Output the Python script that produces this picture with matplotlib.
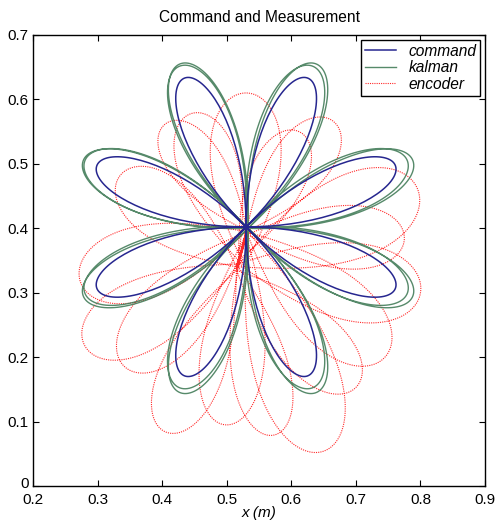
import numpy as np
import matplotlib
matplotlib.use("Agg")
import matplotlib.pyplot as plt
from matplotlib.transforms import ScaledTranslation

plt.rcParams['font.family'] = ['Liberation Sans', 'DejaVu Sans']

# ---------------- data ----------------
title = "Command and Measurement"
xlabel = "x (m)"
series_names = ["command", "kalman", "encoder"]

# rose trajectory centre and petal directions (deg)
center_x = 0.530
center_y = 0.402
petal_angles = [22.5, 67.5, 112.5, 157.5, 202.5, 247.5, 292.5, 337.5]

# command petal length / width factor
command_length = 0.250
command_width = 1.00

# kalman: two passes
kalman_lengths = [0.270, 0.276]
kalman_widths = [1.16, 1.12]
kalman_dx = [0.000, 0.003]
kalman_dy = [0.000, -0.002]

# encoder lobes: tip points, base points, width factors
enc_tip_x = [0.530, 0.445, 0.405, 0.335, 0.273, 0.280, 0.342, 0.405, 0.497,
             0.573, 0.650, 0.700, 0.745, 0.800, 0.775, 0.795, 0.665, 0.612]
enc_tip_y = [0.610, 0.578, 0.562, 0.482, 0.318, 0.218, 0.185, 0.084, 0.095,
             0.079, 0.054, 0.153, 0.200, 0.300, 0.384, 0.462, 0.566, 0.550]
enc_base_x = [0.528, 0.518, 0.532, 0.515, 0.530, 0.518, 0.532, 0.515, 0.530,
              0.518, 0.532, 0.515, 0.530, 0.518, 0.532, 0.515, 0.530, 0.518]
enc_base_y = [0.340, 0.350, 0.395, 0.340, 0.395, 0.345, 0.395, 0.335, 0.390,
              0.340, 0.395, 0.335, 0.395, 0.345, 0.390, 0.340, 0.395, 0.350]
enc_width = [1.15, 1.10, 1.10, 1.20, 1.20, 1.15, 1.10, 1.00, 0.95,
             0.95, 1.00, 1.10, 1.15, 1.20, 1.15, 1.20, 1.15, 1.10]

xticks = [0.2, 0.3, 0.4, 0.5, 0.6, 0.7, 0.8, 0.9]
yticks = [0, 0.1, 0.2, 0.3, 0.4, 0.5, 0.6, 0.7]
xticklabels = ["0.2", "0.3", "0.4", "0.5", "0.6", "0.7", "0.8", "0.9"]
yticklabels = ["0", "0.1", "0.2", "0.3", "0.4", "0.5", "0.6", "0.7"]


# ---------------- helpers ----------------
def lobe(bx, by, length, ang, w, p=1.0, n=90):
    t = np.linspace(-np.pi / 8, np.pi / 8, n)
    r = length * np.clip(np.cos(4 * t), 0, None) ** p
    u = r * np.cos(t)
    v = r * np.sin(t) * w
    ca, sa = np.cos(ang), np.sin(ang)
    return bx + u * ca - v * sa, by + u * sa + v * ca


def rose(cx, cy, length, w):
    xs, ys = [], []
    for a in petal_angles:
        x, y = lobe(cx, cy, length, np.deg2rad(a), w)
        xs.append(x)
        ys.append(y)
    return np.concatenate(xs), np.concatenate(ys)


# ---------------- figure ----------------
fig = plt.figure(figsize=(4.97, 5.22), dpi=100)
ax = fig.add_axes([0.0664, 0.069, 0.9096, 0.864])

# encoder
ex, ey = [], []
for tx, ty, bx, by, w in zip(enc_tip_x, enc_tip_y, enc_base_x, enc_base_y, enc_width):
    L = np.hypot(tx - bx, ty - by)
    a = np.arctan2(ty - by, tx - bx)
    x, y = lobe(bx, by, L, a, w, p=0.55)
    ex.append(x)
    ey.append(y)
ex = np.concatenate(ex)
ey = np.concatenate(ey)

# command
cxs, cys = rose(center_x, center_y, command_length, command_width)

# kalman
kx, ky = [], []
for L, w, dx, dy in zip(kalman_lengths, kalman_widths, kalman_dx, kalman_dy):
    x, y = rose(center_x + dx, center_y + dy, L, w)
    kx.append(x)
    ky.append(y)
kx = np.concatenate(kx)
ky = np.concatenate(ky)

l1, = ax.plot(cxs, cys, color='#26268f', lw=1.1, label=series_names[0], zorder=3)
l2, = ax.plot(kx, ky, color='#447d5a', lw=1.0, alpha=0.9, label=series_names[1], zorder=2)
l3, = ax.plot(ex, ey, color='#ff2a2a', lw=0.8, linestyle=(0, (1, 1)), label=series_names[2], zorder=1)

ax.set_xlim(0.2, 0.9)
ax.set_ylim(0, 0.7)
ax.set_xticks(xticks)
ax.set_xticklabels(xticklabels)
ax.set_yticks(yticks)
ax.set_yticklabels(yticklabels)
ax.tick_params(direction='in', top=True, right=True, length=4, width=0.8,
               labelsize=11)
ax.tick_params(axis='x', pad=5)
ax.tick_params(axis='y', pad=3)
for s in ax.spines.values():
    s.set_linewidth(1.0)

# nudge the y "0" label up slightly so it does not touch the x "0.2" label
lab0 = ax.get_yticklabels()[0]
lab0.set_transform(lab0.get_transform() + ScaledTranslation(0, 3 / 100, fig.dpi_scale_trans))

ax.set_title(title, fontsize=11.2, pad=9)
ax.set_xlabel(xlabel, fontsize=11, style='italic', labelpad=-1)

leg = ax.legend(handles=[l1, l2, l3], loc='upper right',
                prop={'style': 'italic', 'size': 11.2}, fancybox=False,
                edgecolor='black', framealpha=1, borderaxespad=0.3,
                handlelength=2.0, handletextpad=0.8, labelspacing=0.1,
                borderpad=0.25)
leg.get_frame().set_linewidth(1.0)

fig.savefig("out.png", dpi=100)
